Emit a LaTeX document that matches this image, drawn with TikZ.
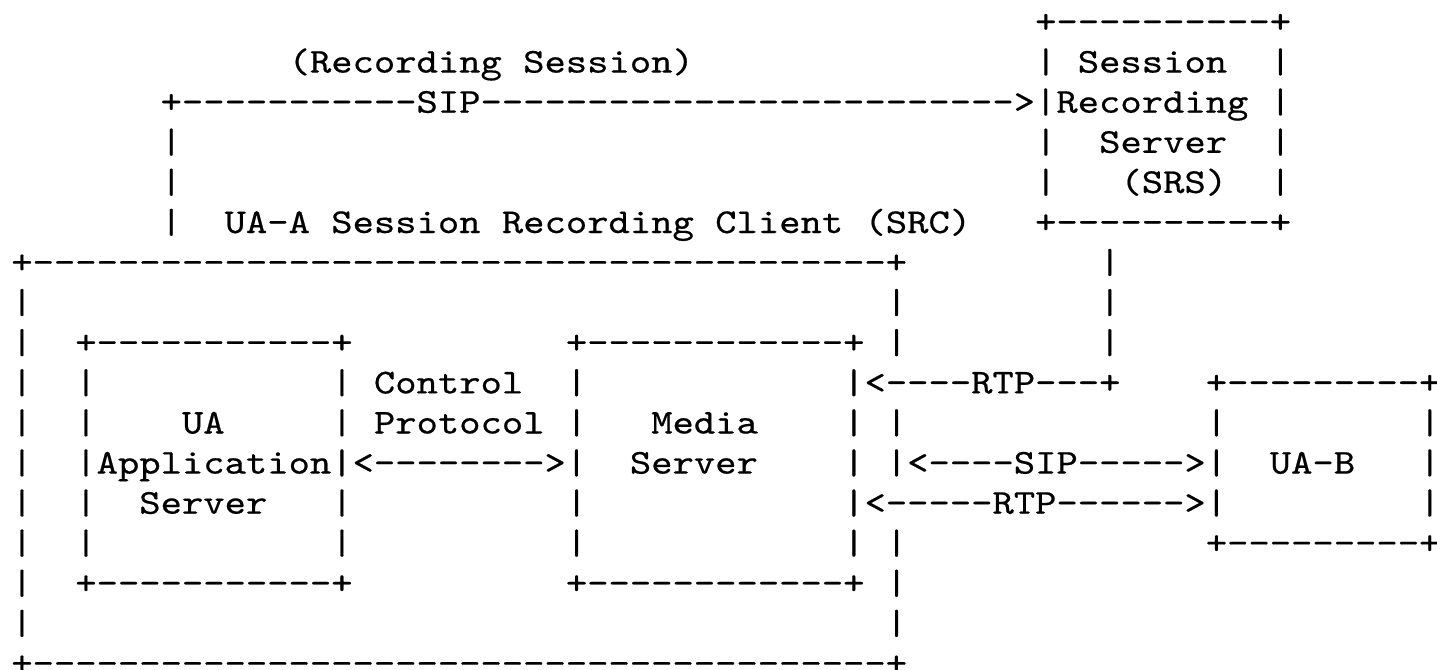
\documentclass[tikz,border=0pt]{standalone}
\usepackage{fontspec}
\setmonofont{lmmono10-regular.otf}[FakeStretch=1.163,FakeBold=0.5]
\ExplSyntaxOn
\cs_new:Npn \Dsh #1 { \prg_replicate:nn {#1} {-} }
\ExplSyntaxOff
\newcommand\T[3]{\node[txt] (r#1c#2) at ({11.33pt+21.33pt*#2},{-32.5pt-40.1pt*#1}) {#3};}
\begin{document}
\begin{tikzpicture}[txt/.style={anchor=base west,inner sep=0pt,outer sep=0pt,
  font=\ttfamily\fontsize{34.93}{40}\selectfont}]
\fill[white] (0,0) rectangle (1437pt,-669pt);
\useasboundingbox (0,0) rectangle (1437pt,-669pt);
% row 0
\T{0}{48}{+\Dsh{10}+}
% row 1
\T{1}{13}{(Recording Session)}
\T{1}{48}{|}\T{1}{50}{Session}\T{1}{59}{|}
% row 2
\T{2}{7}{+\Dsh{11}SIP\Dsh{25}>|Recording}\T{2}{59}{|}
% row 3
\T{3}{7}{|}\T{3}{48}{|}\T{3}{51}{Server}\T{3}{59}{|}
% row 4
\T{4}{7}{|}\T{4}{48}{|}\T{4}{52}{(SRS)}\T{4}{59}{|}
% row 5
\T{5}{7}{|}\T{5}{10}{UA-A}\T{5}{15}{Session}\T{5}{23}{Recording}\T{5}{33}{Client}\T{5}{40}{(SRC)}
\T{5}{48}{+\Dsh{10}+}
% row 6
\T{6}{0}{+\Dsh{40}+}\T{6}{51}{|}
% row 7
\T{7}{0}{|}\T{7}{41}{|}\T{7}{51}{|}
% row 8
\T{8}{0}{|}\T{8}{3}{+\Dsh{11}+}\T{8}{26}{+\Dsh{12}+}\T{8}{41}{|}\T{8}{51}{|}
% row 9
\T{9}{0}{|}\T{9}{3}{|}\T{9}{15}{|}\T{9}{17}{Control}\T{9}{26}{|}
\T{9}{39}{|<\Dsh{4}RTP\Dsh{3}+}\T{9}{56}{+\Dsh{9}+}
% row 10
\T{10}{0}{|}\T{10}{3}{|}\T{10}{8}{UA}\T{10}{15}{|}\T{10}{17}{Protocol}\T{10}{26}{|}
\T{10}{30}{Media}\T{10}{39}{|}\T{10}{41}{|}\T{10}{56}{|}\T{10}{66}{|}
% row 11
\T{11}{0}{|}\T{11}{3}{|Application|<\Dsh{8}>|}\T{11}{29}{Server}\T{11}{39}{|}
\T{11}{41}{|<\Dsh{4}SIP\Dsh{5}>|}\T{11}{59}{UA-B}\T{11}{66}{|}
% row 12
\T{12}{0}{|}\T{12}{3}{|}\T{12}{6}{Server}\T{12}{15}{|}\T{12}{26}{|}
\T{12}{39}{|<\Dsh{5}RTP\Dsh{6}>|}\T{12}{66}{|}
% row 13
\T{13}{0}{|}\T{13}{3}{|}\T{13}{15}{|}\T{13}{26}{|}\T{13}{39}{|}\T{13}{41}{|}\T{13}{56}{+\Dsh{9}+}
% row 14
\T{14}{0}{|}\T{14}{3}{+\Dsh{11}+}\T{14}{26}{+\Dsh{12}+}\T{14}{41}{|}
% row 15
\T{15}{0}{|}\T{15}{41}{|}
% row 16
\T{16}{0}{+\Dsh{40}+}
\end{tikzpicture}
\end{document}
